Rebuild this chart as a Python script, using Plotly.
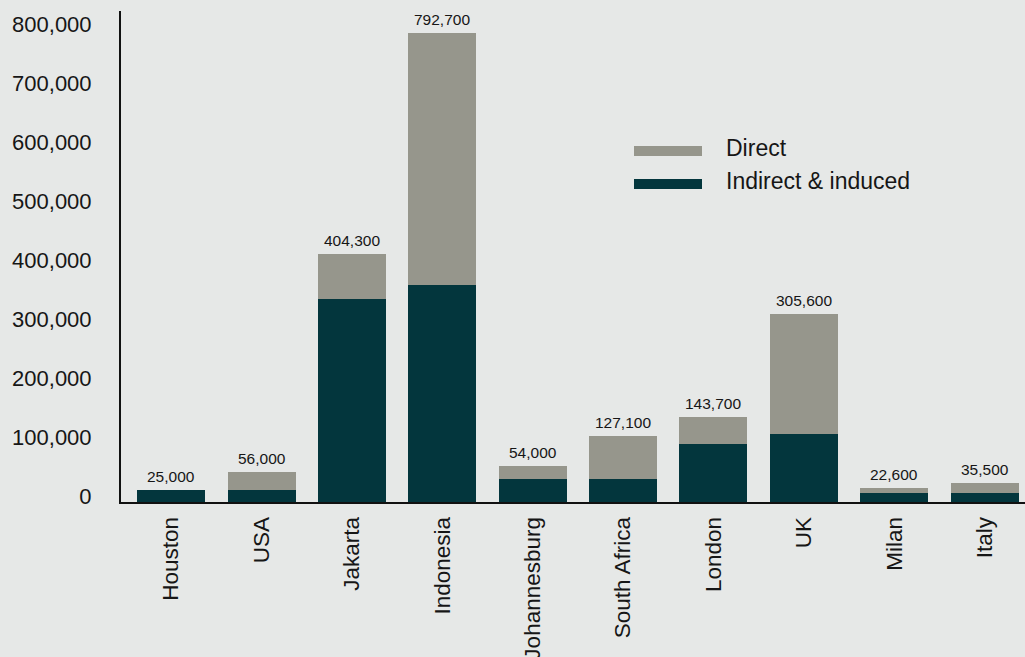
import plotly.graph_objects as go

categories = ["Houston", "USA", "Jakarta", "Indonesia", "Johannesburg",
              "South Africa", "London", "UK", "Milan", "Italy"]
indirect_induced = [20400, 20400, 344600, 368400, 39000, 39000, 98500, 115400, 15800, 15800]
direct = [0, 30500, 76400, 427900, 22100, 73000, 45800, 203800, 8500, 17000]
total_labels = ["25,000", "56,000", "404,300", "792,700", "54,000",
                "127,100", "143,700", "305,600", "22,600", "35,500"]
y_ticks = [0, 100000, 200000, 300000, 400000, 500000, 600000, 700000, 800000]
y_tick_text = ["0", "100,000", "200,000", "300,000", "400,000",
               "500,000", "600,000", "700,000", "800,000"]
legend_names = ["Direct", "Indirect & induced"]

BG = "#e6e8e7"
GREY = "#96968c"
DARK = "#03363d"
TXT = "#161616"
FONT = "Liberation Sans, Arial, sans-serif"

fig = go.Figure()
fig.add_trace(go.Bar(x=categories, y=indirect_induced, name=legend_names[1],
                     marker=dict(color=DARK, line=dict(width=0))))
fig.add_trace(go.Bar(x=categories, y=direct, name=legend_names[0],
                     marker=dict(color=GREY, line=dict(width=0))))

for c, a, b, t in zip(categories, indirect_induced, direct, total_labels):
    fig.add_annotation(x=c, y=a + b, text=t, showarrow=False, yanchor="bottom",
                       yshift=3, font=dict(size=15.5, color=TXT, family=FONT))

# manual legend
for i, (name, col) in enumerate(zip(legend_names, [GREY, DARK])):
    y0 = 146 + i * 33
    fig.add_shape(type="rect", xref="paper", yref="paper",
                  x0=(634 - 121) / 904, x1=(702 - 121) / 904,
                  y0=(502 - (y0 + 10)) / 491, y1=(502 - y0) / 491,
                  fillcolor=col, line=dict(width=0))
    fig.add_annotation(xref="paper", yref="paper", x=(724 - 121) / 904,
                       y=(502 - (y0 + 2)) / 491, text=name, showarrow=False,
                       xanchor="left", yanchor="middle",
                       font=dict(size=23, color=TXT, family=FONT))

fig.update_layout(
    barmode="stack", bargap=0.248, showlegend=False,
    width=1025, height=657,
    margin=dict(l=121, r=0, t=11, b=155, autoexpand=False),
    paper_bgcolor=BG, plot_bgcolor=BG,
    font=dict(family=FONT, color=TXT),
)
fig.update_xaxes(range=[-0.555, 9.447], showgrid=False, zeroline=False,
                 showline=True, linecolor="#111111", linewidth=2,
                 tickangle=-90, tickfont=dict(size=22.5, color=TXT, family=FONT),
                 ticks="", ticklabelstandoff=4, automargin=False)
fig.update_yaxes(range=[0, 833600], showgrid=False, zeroline=False,
                 showline=True, linecolor="#111111", linewidth=2,
                 tickvals=y_ticks, ticktext=y_tick_text,
                 tickfont=dict(size=22, color=TXT, family=FONT),
                 ticks="", ticklabelstandoff=23, ticklabelshift=-6,
                 automargin=False)

fig.write_html("out.html", config={"displayModeBar": False},
               post_script="document.body.style.margin='0';document.body.style.overflow='hidden';")
